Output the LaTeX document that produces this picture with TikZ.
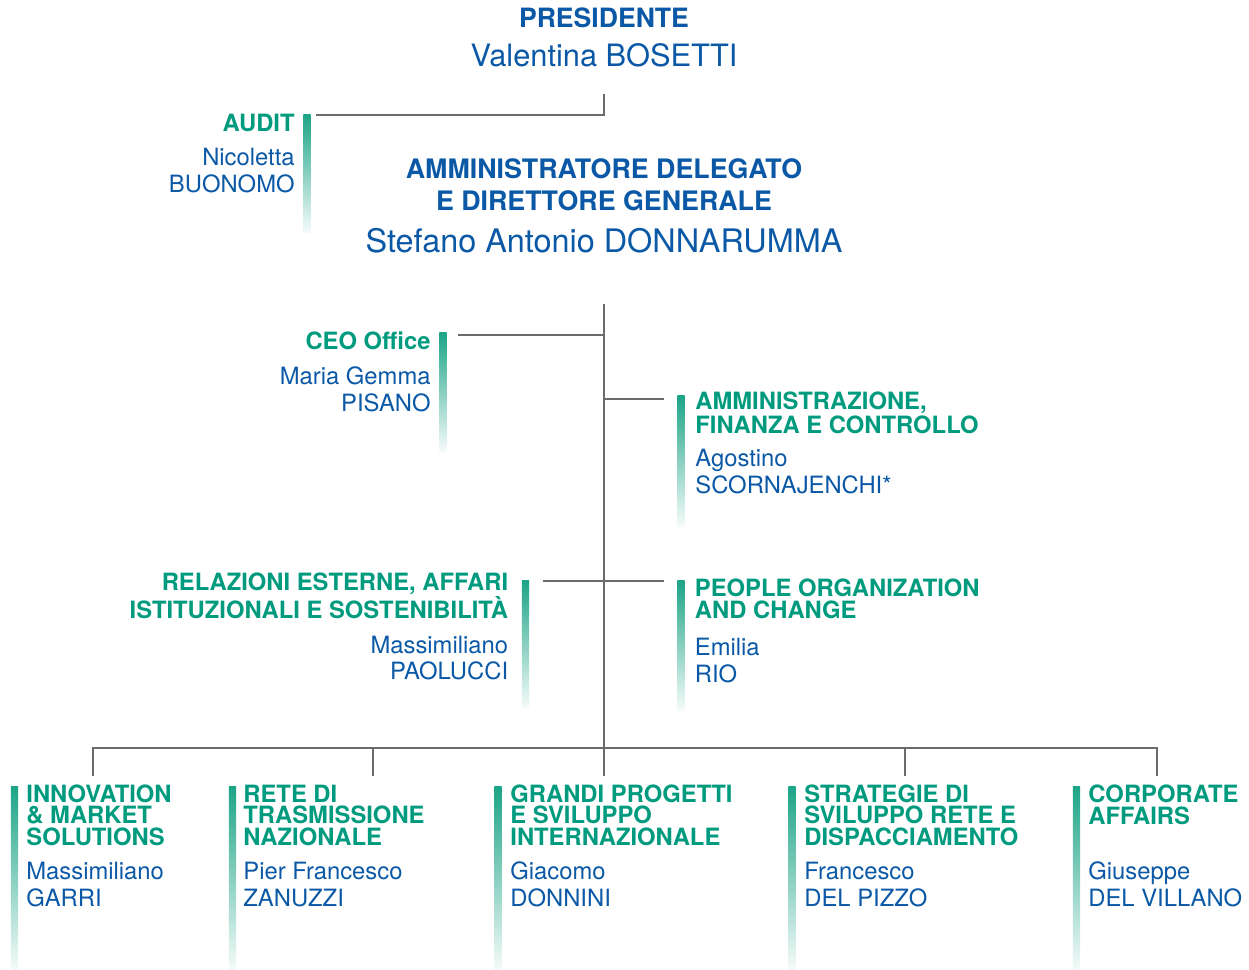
\documentclass[tikz,border=0pt]{standalone}
\usepackage{fontspec}
\setmainfont{TeX Gyre Heros}
\usetikzlibrary{positioning}
\definecolor{grn}{HTML}{009B7E}
\definecolor{blu}{HTML}{0A58A6}
\definecolor{lnc}{HTML}{6B6B6B}
\definecolor{barc}{HTML}{1CA486}

\begin{document}
\begin{tikzpicture}[x=0.5pt,y=0.5pt,every node/.style={inner sep=0pt},
  head/.style={font=\bfseries\fontsize{11.9}{10.75}\selectfont,text=grn},
  who/.style={font=\fontsize{11.9}{13.25}\selectfont,text=blu},
  bar/.style={anchor=north west,minimum width=3.6pt,top color=barc,middle color=barc!45,bottom color=barc!4},
  link/.style={draw=lnc,line width=0.65pt}]
\useasboundingbox (0,0) rectangle (1249,-970);

% vertice
\node[font=\bfseries\fontsize{13.3}{16}\selectfont,text=blu,anchor=base] (pres) at (604,-27.5) {PRESIDENTE};
\node[font=\fontsize{15.4}{18}\selectfont,text=blu,anchor=base] (presname) at (604,-66) {Valentina BOSETTI};
\node[font=\bfseries\fontsize{13.4}{16}\selectfont,text=blu,align=center,anchor=base] (ad) at (604,-210.5) {AMMINISTRATORE DELEGATO\\E DIRETTORE GENERALE};
\node[font=\fontsize{16.2}{19}\selectfont,text=blu,anchor=base] (adname) at (604,-252) {Stefano Antonio DONNARUMMA};

% audit
\node[bar,minimum height=59pt] (audbar) at (303,-114) {};
\node[head,anchor=base east] (audhead) at (295,-131) {AUDIT};
\node[who,align=right,anchor=base east] (audname) at (295,-192) {Nicoletta\\BUONOMO};

% staff
\node[bar,minimum height=59.5pt] (ceobar) at (439,-332) {};
\node[head,anchor=base east] (ceohead) at (431,-349.5) {CEO Office};
\node[who,align=right,anchor=base east] (ceoname) at (431,-411) {Maria Gemma\\PISANO};

\node[bar,minimum height=65.5pt] (afcbar) at (677,-395) {};
\node[head,align=left,anchor=base west] (afchead) at (695,-433.3) {AMMINISTRAZIONE,\\FINANZA E CONTROLLO};
\node[who,align=left,anchor=base west] (afcname) at (695,-493) {Agostino\\SCORNAJENCHI*};

\node[bar,minimum height=64pt] (relbar) at (521.5,-580) {};
\node[head,align=right,anchor=base east] (relhead) at (508.5,-618.3) {RELAZIONI ESTERNE, AFFARI\\ISTITUZIONALI E SOSTENIBILITÀ};
\node[who,align=right,anchor=base east] (relname) at (508.5,-679.5) {Massimiliano\\PAOLUCCI};

\node[bar,minimum height=65pt] (pocbar) at (677,-580) {};
\node[head,align=left,anchor=base west] (pochead) at (694.5,-618.3) {PEOPLE ORGANIZATION\\AND CHANGE};
\node[who,align=left,anchor=base west] (pocname) at (694.5,-682) {Emilia\\RIO};

% direzioni
\node[bar,minimum height=92pt] (imsbar) at (10.5,-786) {};
\node[head,align=left,anchor=base west] (imshead) at (26,-845.3) {INNOVATION\\\& MARKET\\SOLUTIONS};
\node[who,align=left,anchor=base west] (imsname) at (26,-906) {Massimiliano\\GARRI};

\node[bar,minimum height=92pt] (rtnbar) at (228.5,-786) {};
\node[head,align=left,anchor=base west] (rtnhead) at (243,-845.3) {RETE DI\\TRASMISSIONE\\NAZIONALE};
\node[who,align=left,anchor=base west] (rtnname) at (243,-906) {Pier Francesco\\ZANUZZI};

\node[bar,minimum height=92pt] (gpsbar) at (494,-786) {};
\node[head,align=left,anchor=base west] (gpshead) at (510,-845.3) {GRANDI PROGETTI\\E SVILUPPO\\INTERNAZIONALE};
\node[who,align=left,anchor=base west] (gpsname) at (510,-906) {Giacomo\\DONNINI};

\node[bar,minimum height=92pt] (sdrbar) at (788,-786) {};
\node[head,align=left,anchor=base west] (sdrhead) at (804,-845.3) {STRATEGIE DI\\SVILUPPO RETE E\\DISPACCIAMENTO};
\node[who,align=left,anchor=base west] (sdrname) at (804,-906) {Francesco\\DEL PIZZO};

\node[bar,minimum height=92pt] (cafbar) at (1072.5,-786) {};
\node[head,align=left,anchor=base west] (cafhead) at (1088,-824.3) {CORPORATE\\AFFAIRS};
\node[who,align=left,anchor=base west] (cafname) at (1088,-906) {Giuseppe\\DEL VILLANO};

% linee
\coordinate (presfoot) at (604,-94);
\coordinate (audin) at (316,-115);
\coordinate (adfoot) at (604,-304);
\coordinate (bus) at (604,-748);
\coordinate (ceoin) at (458,-335);
\coordinate (afcin) at (664,-399);
\coordinate (relin) at (543,-581);
\coordinate (pocin) at (664,-581);
\coordinate (imsin) at (93,-776);
\coordinate (rtnin) at (373,-776);
\coordinate (gpsin) at (604,-776);
\coordinate (sdrin) at (905,-776);
\coordinate (cafin) at (1157,-776);

\draw[link] (presfoot) |- (audin);
\draw[link] (adfoot) -- (gpsin);
\draw[link] (ceoin) -- (ceoin -| adfoot);
\draw[link] (afcin -| adfoot) -- (afcin);
\draw[link] (relin) -- (pocin);
\draw[link] (imsin) -- (imsin |- bus) -- (cafin |- bus) -- (cafin);
\draw[link] (rtnin |- bus) -- (rtnin);
\draw[link] (sdrin |- bus) -- (sdrin);
\end{tikzpicture}
\end{document}
